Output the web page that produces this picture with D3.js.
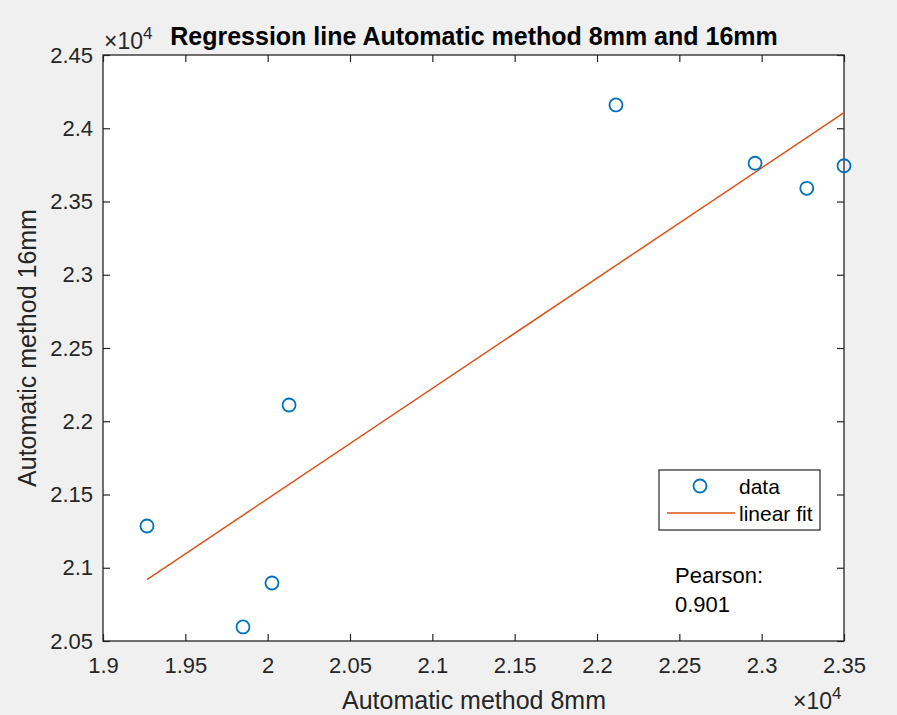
<!DOCTYPE html>
<meta charset="utf-8">
<script src="https://d3js.org/d3.v7.min.js"></script>
<style>
  body { margin: 0; background: #f0f0f0; }
  text { font-family: "Liberation Sans", Arial, sans-serif; }
  .tick text { fill: #262626; font-size: 22px; }
</style>
<body>
<svg id="chart" width="897" height="715"></svg>
<script>
// measured points (Automatic method 8mm vs 16mm)
var x8mm  = [19267, 19850, 20026, 20130, 22115, 22960, 23274, 23500];
var y16mm = [21285, 20596, 20896, 22111, 24159, 23761, 23590, 23744];
var xTicks = [19000, 19500, 20000, 20500, 21000, 21500, 22000, 22500, 23000, 23500];
var yTicks = [20500, 21000, 21500, 22000, 22500, 23000, 23500, 24000, 24500];
var pearsonText = ["Pearson:", "0.901"];

var svg = d3.select("#chart"),
  width = +svg.attr("width"),
  height = +svg.attr("height");

// plot box (note: "top" is reserved on window, so use pLeft etc.)
var pLeft = 103, pRight = 844, pTop = 55, pBottom = 641;
var axisColor = "#262626";

var x = d3.scaleLinear().domain([19000, 23500]).range([pLeft, pRight]);
var y = d3.scaleLinear().domain([20500, 24500]).range([pBottom, pTop]);

// labels shown as value / 10^4
var fmt = function(v) { return String(+(v / 1e4).toFixed(2)); };

// plot background
svg.append("rect")
  .attr("x", pLeft).attr("y", pTop)
  .attr("width", pRight - pLeft).attr("height", pBottom - pTop)
  .attr("fill", "white");

// axes (ticks inward, box on)
function styleAxis(g) {
  g.select(".domain").remove();
  g.attr("font-family", null).attr("font-size", null);
  g.selectAll(".tick line").attr("stroke", axisColor).attr("stroke-width", 1.2);
}
svg.append("g")
  .attr("transform", "translate(0," + pBottom + ")")
  .call(d3.axisBottom(x).tickValues(xTicks).tickFormat(fmt).tickSizeInner(-7).tickSizeOuter(0).tickPadding(16))
  .call(styleAxis);
svg.append("g")
  .attr("transform", "translate(0," + pTop + ")")
  .call(d3.axisTop(x).tickValues(xTicks).tickFormat("").tickSizeInner(-7).tickSizeOuter(0))
  .call(styleAxis);
svg.append("g")
  .attr("transform", "translate(" + pLeft + ",0)")
  .call(d3.axisLeft(y).tickValues(yTicks).tickFormat(fmt).tickSizeInner(-7).tickSizeOuter(0).tickPadding(10))
  .call(styleAxis);
svg.append("g")
  .attr("transform", "translate(" + pRight + ",0)")
  .call(d3.axisRight(y).tickValues(yTicks).tickFormat("").tickSizeInner(-7).tickSizeOuter(0))
  .call(styleAxis);

svg.append("rect")
  .attr("x", pLeft).attr("y", pTop)
  .attr("width", pRight - pLeft).attr("height", pBottom - pTop)
  .attr("fill", "none").attr("stroke", axisColor).attr("stroke-width", 1.3);

// linear fit from the data
var mx = d3.mean(x8mm), my = d3.mean(y16mm),
  sxy = d3.sum(x8mm, function(v, i) { return (v - mx) * (y16mm[i] - my); }),
  sxx = d3.sum(x8mm, function(v) { return (v - mx) * (v - mx); });
var slope = sxy / sxx, icpt = my - slope * mx;
var xr = d3.extent(x8mm);

svg.append("line")
  .attr("x1", x(xr[0])).attr("y1", y(icpt + slope * xr[0]))
  .attr("x2", x(xr[1])).attr("y2", y(icpt + slope * xr[1]))
  .attr("stroke", "#D95319").attr("stroke-width", 1.5);

svg.append("g")
  .selectAll("circle")
  .data(x8mm)
  .enter()
  .append("circle")
    .attr("cx", function(d) { return x(d); })
    .attr("cy", function(d, i) { return y(y16mm[i]); })
    .attr("r", 6.5)
    .attr("fill", "none")
    .attr("stroke", "#0072BD")
    .attr("stroke-width", 1.8);

// title and labels
svg.append("text")
  .attr("x", 474).attr("y", 45)
  .attr("text-anchor", "middle")
  .attr("font-size", 25).attr("font-weight", "bold").attr("fill", "#000")
  .text("Regression line Automatic method 8mm and 16mm");

svg.append("text")
  .attr("x", 474).attr("y", 709)
  .attr("text-anchor", "middle")
  .attr("font-size", 25).attr("fill", axisColor)
  .text("Automatic method 8mm");

svg.append("text")
  .attr("transform", "translate(36,348) rotate(-90)")
  .attr("text-anchor", "middle")
  .attr("font-size", 25).attr("fill", axisColor)
  .text("Automatic method 16mm");

// exponent markers
function exponent(xp, yp) {
  var t = svg.append("text").attr("x", xp).attr("y", yp)
    .attr("font-size", 23).attr("fill", axisColor);
  t.append("tspan").text("\u00d710");
  t.append("tspan").attr("font-size", 17).attr("dy", -10).text("4");
}
exponent(104, 49);
exponent(793, 709);

// legend
var lg = svg.append("g");
lg.append("rect")
  .attr("x", 659).attr("y", 470).attr("width", 161).attr("height", 60)
  .attr("fill", "white").attr("stroke", axisColor).attr("stroke-width", 1.2);
lg.append("circle")
  .attr("cx", 700).attr("cy", 486).attr("r", 6.5)
  .attr("fill", "none").attr("stroke", "#0072BD").attr("stroke-width", 1.8);
lg.append("line")
  .attr("x1", 667).attr("x2", 735).attr("y1", 513).attr("y2", 513)
  .attr("stroke", "#D95319").attr("stroke-width", 1.5);
lg.append("text").attr("x", 739).attr("y", 494)
  .attr("font-size", 21).attr("fill", "#000").text("data");
lg.append("text").attr("x", 739).attr("y", 521)
  .attr("font-size", 21).attr("fill", "#000").text("linear fit");

// pearson annotation
svg.append("g")
  .selectAll("text")
  .data(pearsonText)
  .enter()
  .append("text")
    .attr("x", 675)
    .attr("y", function(d, i) { return 583 + i * 29; })
    .attr("font-size", 22).attr("fill", "#000")
    .text(function(d) { return d; });
</script>
</body>
